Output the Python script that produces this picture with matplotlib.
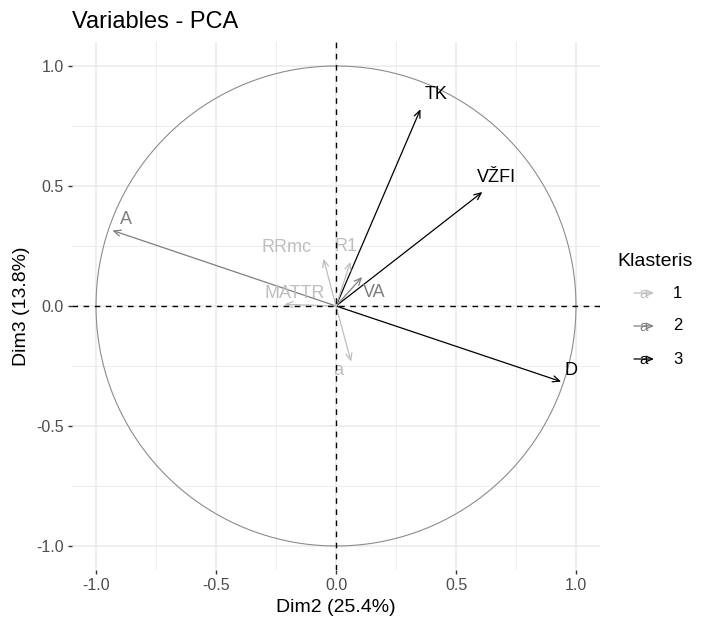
import numpy as np
import matplotlib
matplotlib.use("Agg")
import matplotlib.pyplot as plt

plt.rcParams['font.family'] = ['Liberation Sans', 'DejaVu Sans']

# Variable loadings on Dim2 / Dim3
variables = ["TK", "VŽFI", "D", "A", "VA", "RRmc", "R1", "MATTR", "a"]
dim2 = [0.352, 0.610, 0.938, -0.932, 0.109, -0.052, 0.060, -0.215, 0.063]
dim3 = [0.820, 0.475, -0.315, 0.315, 0.121, 0.197, 0.184, 0.007, -0.232]
cluster = [3, 3, 3, 2, 2, 1, 1, 1, 1]

# Label anchor positions
label_x = [0.417, 0.668, 0.980, -0.874, 0.160, -0.206, 0.042, -0.173, 0.008]
label_y = [0.880, 0.534, -0.267, 0.360, 0.055, 0.243, 0.246, 0.052, -0.267]

cluster_levels = [1, 2, 3]
cluster_colors = {1: "#BEBEBE", 2: "#7F7F7F", 3: "#000000"}

fig = plt.figure(figsize=(7.13, 6.27), dpi=100)
ax = fig.add_axes([72 / 713, 57 / 627, 528 / 713, 528 / 627])

ax.set_xlim(-1.1, 1.1)
ax.set_ylim(-1.1, 1.1)

# grid
major = [-1.0, -0.5, 0.0, 0.5, 1.0]
minor = [-0.75, -0.25, 0.25, 0.75]
ax.set_xticks(major)
ax.set_yticks(major)
ax.set_xticks(minor, minor=True)
ax.set_yticks(minor, minor=True)
ax.grid(which="major", color="#EBEBEB", linewidth=1.1)
ax.grid(which="minor", color="#EBEBEB", linewidth=0.6)
ax.set_axisbelow(True)
for s in ax.spines.values():
    s.set_visible(False)
ax.tick_params(which="major", length=3, width=1, color="#333333",
               labelsize=11.5, labelcolor="#4D4D4D", pad=3)
ax.tick_params(which="minor", length=0)
ax.set_xticklabels(["-1.0", "-0.5", "0.0", "0.5", "1.0"])
ax.set_yticklabels(["-1.0", "-0.5", "0.0", "0.5", "1.0"])

# correlation circle
t = np.linspace(0, 2 * np.pi, 400)
ax.plot(np.cos(t), np.sin(t), color="#8C8C8C", linewidth=0.8, zorder=2)

# arrows
for vx, vy, c in zip(dim2, dim3, cluster):
    ax.annotate("", xy=(vx, vy), xytext=(0, 0),
                arrowprops=dict(arrowstyle="->,head_length=0.5,head_width=0.22",
                                color=cluster_colors[c], lw=0.9,
                                shrinkA=0, shrinkB=0),
                zorder=3)

# labels
for name, lx, ly, c in zip(variables, label_x, label_y, cluster):
    ax.text(lx, ly, name, color=cluster_colors[c], fontsize=13,
            ha="center", va="center", zorder=4)

# reference axes
ax.axhline(0, color="black", linestyle=(0, (4, 4)), linewidth=1.0, zorder=5)
ax.axvline(0, color="black", linestyle=(0, (4, 4)), linewidth=1.0, zorder=5)

ax.set_xlabel("Dim2 (25.4%)", fontsize=14, labelpad=4)
ax.set_ylabel("Dim3 (13.8%)", fontsize=14, labelpad=4)
fig.text(72 / 713, 1 - 22 / 627, "Variables - PCA", fontsize=17,
         ha="left", va="center")

# legend
fig.text(617 / 713, 1 - 262 / 627, "Klasteris", fontsize=14,
         ha="left", va="center")
for i, lvl in enumerate(cluster_levels):
    ypix = 627 - (293 + 33 * i)
    col = cluster_colors[lvl]
    ax.annotate("", xy=(654, ypix), xytext=(634, ypix), xycoords="figure pixels",
                textcoords="figure pixels", annotation_clip=False,
                arrowprops=dict(arrowstyle="->,head_length=0.45,head_width=0.2",
                                color=col, lw=0.9, shrinkA=0, shrinkB=0))
    fig.text(644 / 713, (ypix - 1) / 627, "a", fontsize=11, color=col,
             ha="center", va="center")
    fig.text(673 / 713, ypix / 627, str(lvl), fontsize=12, color="black",
             ha="left", va="center")

fig.savefig("out.png", dpi=100)
